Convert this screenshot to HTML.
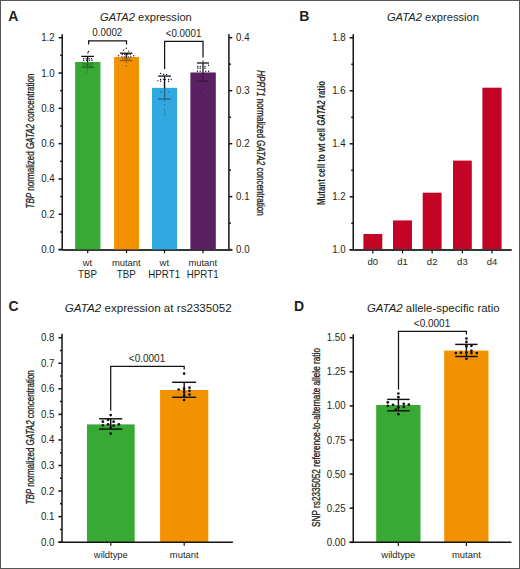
<!DOCTYPE html>
<html><head><meta charset="utf-8"><style>
html,body{margin:0;padding:0;background:#fff;}
body{width:520px;height:569px;overflow:hidden;}
.wrap{position:relative;width:520px;height:569px;box-sizing:border-box;border:1px solid #565656;background:#fff;}
svg{position:absolute;left:-1px;top:-1px;}
text{font-family:"Liberation Sans",sans-serif;}
</style></head><body><div class="wrap">
<svg width="520" height="569" viewBox="0 0 520 569" shape-rendering="geometricPrecision">
<text transform="translate(8.3,20.6) scale(1,1)" font-size="14" text-anchor="start" fill="#231f20" font-weight="bold">A</text>
<text x="100.0" y="20.8" font-size="11.2" fill="#231f20" stroke="#231f20" stroke-width="0" textLength="91.8" lengthAdjust="spacingAndGlyphs"><tspan font-style="italic">GATA2</tspan> expression</text>
<line x1="62.2" y1="34.2" x2="62.2" y2="250.1" stroke="#141414" stroke-width="1.5"/>
<line x1="58.6" y1="249.6" x2="62.2" y2="249.6" stroke="#141414" stroke-width="1.5"/>
<text transform="translate(54.6,253.1) scale(1,1.04)" font-size="9.7" text-anchor="end" fill="#231f20" >0.0</text>
<line x1="58.6" y1="214.28333333333333" x2="62.2" y2="214.28333333333333" stroke="#141414" stroke-width="1.5"/>
<text transform="translate(54.6,217.78333333333333) scale(1,1.04)" font-size="9.7" text-anchor="end" fill="#231f20" >0.2</text>
<line x1="58.6" y1="178.96666666666667" x2="62.2" y2="178.96666666666667" stroke="#141414" stroke-width="1.5"/>
<text transform="translate(54.6,182.46666666666667) scale(1,1.04)" font-size="9.7" text-anchor="end" fill="#231f20" >0.4</text>
<line x1="58.6" y1="143.65" x2="62.2" y2="143.65" stroke="#141414" stroke-width="1.5"/>
<text transform="translate(54.6,147.15) scale(1,1.04)" font-size="9.7" text-anchor="end" fill="#231f20" >0.6</text>
<line x1="58.6" y1="108.33333333333334" x2="62.2" y2="108.33333333333334" stroke="#141414" stroke-width="1.5"/>
<text transform="translate(54.6,111.83333333333334) scale(1,1.04)" font-size="9.7" text-anchor="end" fill="#231f20" >0.8</text>
<line x1="58.6" y1="73.01666666666668" x2="62.2" y2="73.01666666666668" stroke="#141414" stroke-width="1.5"/>
<text transform="translate(54.6,76.51666666666668) scale(1,1.04)" font-size="9.7" text-anchor="end" fill="#231f20" >1.0</text>
<line x1="58.6" y1="37.70000000000002" x2="62.2" y2="37.70000000000002" stroke="#141414" stroke-width="1.5"/>
<text transform="translate(54.6,41.20000000000002) scale(1,1.04)" font-size="9.7" text-anchor="end" fill="#231f20" >1.2</text>
<line x1="60.2" y1="231.94166666666666" x2="62.2" y2="231.94166666666666" stroke="#141414" stroke-width="1.5"/>
<line x1="60.2" y1="196.625" x2="62.2" y2="196.625" stroke="#141414" stroke-width="1.5"/>
<line x1="60.2" y1="161.30833333333334" x2="62.2" y2="161.30833333333334" stroke="#141414" stroke-width="1.5"/>
<line x1="60.2" y1="125.99166666666669" x2="62.2" y2="125.99166666666669" stroke="#141414" stroke-width="1.5"/>
<line x1="60.2" y1="90.67500000000001" x2="62.2" y2="90.67500000000001" stroke="#141414" stroke-width="1.5"/>
<line x1="60.2" y1="55.35833333333332" x2="62.2" y2="55.35833333333332" stroke="#141414" stroke-width="1.5"/>
<line x1="228.9" y1="34.2" x2="228.9" y2="250.1" stroke="#141414" stroke-width="1.5"/>
<line x1="228.9" y1="249.6" x2="232.3" y2="249.6" stroke="#141414" stroke-width="1.5"/>
<text transform="translate(236.1,253.1) scale(1,1.04)" font-size="9.7" text-anchor="start" fill="#231f20" >0.0</text>
<line x1="228.9" y1="196.625" x2="232.3" y2="196.625" stroke="#141414" stroke-width="1.5"/>
<text transform="translate(236.1,200.125) scale(1,1.04)" font-size="9.7" text-anchor="start" fill="#231f20" >0.1</text>
<line x1="228.9" y1="143.65" x2="232.3" y2="143.65" stroke="#141414" stroke-width="1.5"/>
<text transform="translate(236.1,147.15) scale(1,1.04)" font-size="9.7" text-anchor="start" fill="#231f20" >0.2</text>
<line x1="228.9" y1="90.67500000000004" x2="232.3" y2="90.67500000000004" stroke="#141414" stroke-width="1.5"/>
<text transform="translate(236.1,94.17500000000004) scale(1,1.04)" font-size="9.7" text-anchor="start" fill="#231f20" >0.3</text>
<line x1="228.9" y1="37.70000000000002" x2="232.3" y2="37.70000000000002" stroke="#141414" stroke-width="1.5"/>
<text transform="translate(236.1,41.20000000000002) scale(1,1.04)" font-size="9.7" text-anchor="start" fill="#231f20" >0.4</text>
<line x1="228.9" y1="223.1125" x2="230.9" y2="223.1125" stroke="#141414" stroke-width="1.5"/>
<line x1="228.9" y1="170.1375" x2="230.9" y2="170.1375" stroke="#141414" stroke-width="1.5"/>
<line x1="228.9" y1="117.16250000000002" x2="230.9" y2="117.16250000000002" stroke="#141414" stroke-width="1.5"/>
<line x1="228.9" y1="64.18750000000006" x2="230.9" y2="64.18750000000006" stroke="#141414" stroke-width="1.5"/>
<rect x="75.2" y="62.0" width="25.099999999999994" height="187.6" fill="#38a935"/>
<rect x="114.2" y="57.0" width="24.799999999999997" height="192.6" fill="#f39200"/>
<rect x="152.0" y="87.9" width="25.0" height="161.7" fill="#31a9e0"/>
<rect x="190.5" y="72.6" width="25.19999999999999" height="177.0" fill="#5b2162"/>
<line x1="62.2" y1="250.0" x2="232.3" y2="250.0" stroke="#363636" stroke-width="1.8"/>
<line x1="58.6" y1="249.6" x2="62.2" y2="249.6" stroke="#141414" stroke-width="1.5"/>
<line x1="87.7" y1="249.6" x2="87.7" y2="253.2" stroke="#141414" stroke-width="1.2"/>
<line x1="126.5" y1="249.6" x2="126.5" y2="253.2" stroke="#141414" stroke-width="1.2"/>
<line x1="164.5" y1="249.6" x2="164.5" y2="253.2" stroke="#141414" stroke-width="1.2"/>
<line x1="203.0" y1="249.6" x2="203.0" y2="253.2" stroke="#141414" stroke-width="1.2"/>
<text transform="translate(87.5,265.8) scale(1,1.04)" font-size="9.4" text-anchor="middle" fill="#231f20" >wt</text>
<text transform="translate(87.4,277.7) scale(1,1.07)" font-size="9.75" text-anchor="middle" fill="#231f20" >TBP</text>
<text transform="translate(126.3,265.8) scale(1,1.04)" font-size="9.4" text-anchor="middle" fill="#231f20" >mutant</text>
<text transform="translate(126.2,277.7) scale(1,1.07)" font-size="9.75" text-anchor="middle" fill="#231f20" >TBP</text>
<text transform="translate(164.3,265.8) scale(1,1.04)" font-size="9.4" text-anchor="middle" fill="#231f20" >wt</text>
<text transform="translate(164.2,277.7) scale(1,1.07)" font-size="9.75" text-anchor="middle" fill="#231f20" >HPRT1</text>
<text transform="translate(202.8,265.8) scale(1,1.04)" font-size="9.4" text-anchor="middle" fill="#231f20" >mutant</text>
<text transform="translate(202.7,277.7) scale(1,1.07)" font-size="9.75" text-anchor="middle" fill="#231f20" >HPRT1</text>
<line x1="87.6" y1="56.4" x2="87.6" y2="67.2" stroke="#111" stroke-width="1.3"/>
<line x1="81.3" y1="56.4" x2="93.89999999999999" y2="56.4" stroke="#111" stroke-width="1.3"/>
<line x1="81.3" y1="67.2" x2="93.89999999999999" y2="67.2" stroke="#111" stroke-width="1.3"/>
<line x1="126.3" y1="53.2" x2="126.3" y2="60.6" stroke="#111" stroke-width="1.3"/>
<line x1="120.1" y1="53.2" x2="132.5" y2="53.2" stroke="#111" stroke-width="1.3"/>
<line x1="120.1" y1="60.6" x2="132.5" y2="60.6" stroke="#111" stroke-width="1.3"/>
<line x1="164.6" y1="76.1" x2="164.6" y2="99.0" stroke="#111" stroke-width="1.3"/>
<line x1="158.2" y1="76.1" x2="171.0" y2="76.1" stroke="#111" stroke-width="1.3"/>
<line x1="158.2" y1="99.0" x2="171.0" y2="99.0" stroke="#111" stroke-width="1.3"/>
<line x1="203.0" y1="63.0" x2="203.0" y2="81.1" stroke="#111" stroke-width="1.3"/>
<line x1="197.0" y1="63.0" x2="209.0" y2="63.0" stroke="#111" stroke-width="1.3"/>
<line x1="197.0" y1="81.1" x2="209.0" y2="81.1" stroke="#111" stroke-width="1.3"/>
<circle cx="88.4" cy="51.5" r="0.7" fill="#14102a"/>
<circle cx="87.9" cy="53" r="0.7" fill="#14102a"/>
<circle cx="83.6" cy="58.6" r="0.7" fill="#14102a"/>
<circle cx="86.1" cy="58.6" r="0.7" fill="#14102a"/>
<circle cx="89.1" cy="58.6" r="0.7" fill="#14102a"/>
<circle cx="91.6" cy="58.6" r="0.7" fill="#14102a"/>
<circle cx="83.6" cy="60.3" r="0.7" fill="#14102a"/>
<circle cx="86.6" cy="60.3" r="0.7" fill="#14102a"/>
<circle cx="89.6" cy="60.3" r="0.7" fill="#14102a"/>
<circle cx="92.1" cy="60.3" r="0.7" fill="#14102a"/>
<circle cx="82.6" cy="63.3" r="0.7" fill="#14102a"/>
<circle cx="85.1" cy="63.3" r="0.7" fill="#14102a"/>
<circle cx="87.6" cy="63.3" r="0.7" fill="#14102a"/>
<circle cx="90.1" cy="63.3" r="0.7" fill="#14102a"/>
<circle cx="92.6" cy="63.3" r="0.7" fill="#14102a"/>
<circle cx="83.6" cy="65" r="0.7" fill="#14102a"/>
<circle cx="86.1" cy="65" r="0.7" fill="#14102a"/>
<circle cx="89.1" cy="65" r="0.7" fill="#14102a"/>
<circle cx="91.6" cy="65" r="0.7" fill="#14102a"/>
<circle cx="84.6" cy="66.6" r="0.7" fill="#14102a"/>
<circle cx="87.6" cy="66.6" r="0.7" fill="#14102a"/>
<circle cx="90.6" cy="66.6" r="0.7" fill="#14102a"/>
<circle cx="87.6" cy="69" r="0.7" fill="#14102a"/>
<circle cx="87.1" cy="72" r="0.7" fill="#14102a"/>
<circle cx="126.3" cy="48.3" r="0.7" fill="#14102a"/>
<circle cx="123.5" cy="50.2" r="0.7" fill="#14102a"/>
<circle cx="128.6" cy="51.1" r="0.7" fill="#14102a"/>
<circle cx="122.3" cy="54.5" r="0.7" fill="#14102a"/>
<circle cx="124.8" cy="54.5" r="0.7" fill="#14102a"/>
<circle cx="127.8" cy="54.5" r="0.7" fill="#14102a"/>
<circle cx="130.3" cy="54.5" r="0.7" fill="#14102a"/>
<circle cx="118.6" cy="55.8" r="0.7" fill="#14102a"/>
<circle cx="133.8" cy="55.8" r="0.7" fill="#14102a"/>
<circle cx="121.8" cy="57" r="0.7" fill="#14102a"/>
<circle cx="124.3" cy="57" r="0.7" fill="#14102a"/>
<circle cx="126.3" cy="57" r="0.7" fill="#14102a"/>
<circle cx="128.3" cy="57" r="0.7" fill="#14102a"/>
<circle cx="130.8" cy="57" r="0.7" fill="#14102a"/>
<circle cx="122.8" cy="58.5" r="0.7" fill="#14102a"/>
<circle cx="125.3" cy="58.5" r="0.7" fill="#14102a"/>
<circle cx="127.3" cy="58.5" r="0.7" fill="#14102a"/>
<circle cx="129.8" cy="58.5" r="0.7" fill="#14102a"/>
<circle cx="124.3" cy="60" r="0.7" fill="#14102a"/>
<circle cx="128.3" cy="60" r="0.7" fill="#14102a"/>
<circle cx="126.3" cy="62.5" r="0.7" fill="#14102a"/>
<circle cx="126.3" cy="65.8" r="0.7" fill="#14102a"/>
<circle cx="160.6" cy="73.4" r="0.7" fill="#14102a"/>
<circle cx="163.6" cy="74.5" r="0.7" fill="#14102a"/>
<circle cx="166.6" cy="74.5" r="0.7" fill="#14102a"/>
<circle cx="160.6" cy="79.5" r="0.7" fill="#14102a"/>
<circle cx="163.8" cy="79.5" r="0.7" fill="#14102a"/>
<circle cx="165.1" cy="79.5" r="0.7" fill="#14102a"/>
<circle cx="168.6" cy="79.5" r="0.7" fill="#14102a"/>
<circle cx="171.2" cy="79.5" r="0.7" fill="#14102a"/>
<circle cx="158.0" cy="80.6" r="0.7" fill="#14102a"/>
<circle cx="160.6" cy="81.3" r="0.7" fill="#14102a"/>
<circle cx="168.6" cy="81.3" r="0.7" fill="#14102a"/>
<circle cx="164.3" cy="82.7" r="0.7" fill="#14102a"/>
<circle cx="164.3" cy="85.3" r="0.7" fill="#14102a"/>
<circle cx="164.6" cy="88" r="0.7" fill="#14102a"/>
<circle cx="160.8" cy="91.8" r="0.7" fill="#14102a"/>
<circle cx="168.8" cy="91.8" r="0.7" fill="#14102a"/>
<circle cx="164.6" cy="93" r="0.7" fill="#14102a"/>
<circle cx="164.6" cy="94.8" r="0.7" fill="#14102a"/>
<circle cx="164.6" cy="101" r="0.7" fill="#14102a"/>
<circle cx="164.6" cy="104.7" r="0.7" fill="#14102a"/>
<circle cx="164.6" cy="109.6" r="0.7" fill="#14102a"/>
<circle cx="164.6" cy="112" r="0.7" fill="#14102a"/>
<circle cx="164.6" cy="114.5" r="0.7" fill="#14102a"/>
<circle cx="203.0" cy="61.3" r="0.7" fill="#14102a"/>
<circle cx="208.5" cy="65.3" r="0.7" fill="#14102a"/>
<circle cx="197.8" cy="66.5" r="0.7" fill="#14102a"/>
<circle cx="200.2" cy="66.5" r="0.7" fill="#14102a"/>
<circle cx="205.0" cy="66.5" r="0.7" fill="#14102a"/>
<circle cx="197.8" cy="68.2" r="0.7" fill="#14102a"/>
<circle cx="200.2" cy="68.2" r="0.7" fill="#14102a"/>
<circle cx="205.0" cy="68.2" r="0.7" fill="#14102a"/>
<circle cx="197.4" cy="71.2" r="0.7" fill="#14102a"/>
<circle cx="200.2" cy="71.2" r="0.7" fill="#14102a"/>
<circle cx="205.8" cy="71.2" r="0.7" fill="#14102a"/>
<circle cx="208.6" cy="71.2" r="0.7" fill="#14102a"/>
<circle cx="201.5" cy="75.6" r="0.7" fill="#14102a"/>
<circle cx="203.0" cy="77.2" r="0.7" fill="#14102a"/>
<circle cx="201.5" cy="85" r="0.7" fill="#14102a"/>
<circle cx="203.0" cy="88.2" r="0.7" fill="#14102a"/>
<circle cx="201.5" cy="92.2" r="0.7" fill="#14102a"/>
<circle cx="203.0" cy="95.3" r="0.7" fill="#14102a"/>
<rect x="75.2" y="62.0" width="25.099999999999994" height="187.6" fill="#38a935" fill-opacity="0.55"/>
<rect x="114.2" y="57.0" width="24.799999999999997" height="192.6" fill="#f39200" fill-opacity="0.55"/>
<rect x="152.0" y="87.9" width="25.0" height="161.7" fill="#31a9e0" fill-opacity="0.55"/>
<rect x="190.5" y="72.6" width="25.19999999999999" height="177.0" fill="#5b2162" fill-opacity="0.55"/>
<path d="M88.6 44.5 V40.8 H126.5 V44.5" fill="none" stroke="#141414" stroke-width="1.25"/>
<text transform="translate(107.3,36.3) scale(1,1.04)" font-size="9.8" text-anchor="middle" fill="#231f20" >0.0002</text>
<path d="M164.6 69 V41.4 H203.0 V57.4" fill="none" stroke="#141414" stroke-width="1.25"/>
<text transform="translate(183.5,36.9) scale(1,1.04)" font-size="9.8" text-anchor="middle" fill="#231f20" >&lt;0.0001</text>
<text transform="translate(34.2,208.5) rotate(-90)" font-size="10" fill="#231f20" textLength="135" lengthAdjust="spacingAndGlyphs" stroke="#231f20" stroke-width="0.3"><tspan font-style="italic">TBP</tspan><tspan> normalized </tspan><tspan font-style="italic">GATA2</tspan><tspan> concentration</tspan></text>
<text transform="translate(256.6,70.3) rotate(90)" font-size="10" fill="#231f20" textLength="145.3" lengthAdjust="spacingAndGlyphs" stroke="#231f20" stroke-width="0.3"><tspan font-style="italic">HPRT1</tspan><tspan> normalized </tspan><tspan font-style="italic">GATA2</tspan><tspan> concentration</tspan></text>
<text transform="translate(299.3,20.5) scale(1,1)" font-size="14" text-anchor="start" fill="#231f20" font-weight="bold">B</text>
<text x="386.9" y="20.8" font-size="11.2" fill="#231f20" stroke="#231f20" stroke-width="0" textLength="92.1" lengthAdjust="spacingAndGlyphs"><tspan font-style="italic">GATA2</tspan> expression</text>
<line x1="353.25" y1="34.2" x2="353.25" y2="250.3" stroke="#141414" stroke-width="1.5"/>
<line x1="349.65" y1="249.8" x2="353.25" y2="249.8" stroke="#141414" stroke-width="1.5"/>
<text transform="translate(345.65,253.3) scale(1,1.04)" font-size="9.7" text-anchor="end" fill="#231f20" >1.0</text>
<line x1="349.65" y1="196.8" x2="353.25" y2="196.8" stroke="#141414" stroke-width="1.5"/>
<text transform="translate(345.65,200.3) scale(1,1.04)" font-size="9.7" text-anchor="end" fill="#231f20" >1.2</text>
<line x1="349.65" y1="143.80000000000004" x2="353.25" y2="143.80000000000004" stroke="#141414" stroke-width="1.5"/>
<text transform="translate(345.65,147.30000000000004) scale(1,1.04)" font-size="9.7" text-anchor="end" fill="#231f20" >1.4</text>
<line x1="349.65" y1="90.79999999999998" x2="353.25" y2="90.79999999999998" stroke="#141414" stroke-width="1.5"/>
<text transform="translate(345.65,94.29999999999998) scale(1,1.04)" font-size="9.7" text-anchor="end" fill="#231f20" >1.6</text>
<line x1="349.65" y1="37.80000000000001" x2="353.25" y2="37.80000000000001" stroke="#141414" stroke-width="1.5"/>
<text transform="translate(345.65,41.30000000000001) scale(1,1.04)" font-size="9.7" text-anchor="end" fill="#231f20" >1.8</text>
<line x1="351.25" y1="223.3" x2="353.25" y2="223.3" stroke="#141414" stroke-width="1.5"/>
<line x1="351.25" y1="170.3" x2="353.25" y2="170.3" stroke="#141414" stroke-width="1.5"/>
<line x1="351.25" y1="117.30000000000004" x2="353.25" y2="117.30000000000004" stroke="#141414" stroke-width="1.5"/>
<line x1="351.25" y1="64.29999999999998" x2="353.25" y2="64.29999999999998" stroke="#141414" stroke-width="1.5"/>
<rect x="363.4" y="234.0" width="18.900000000000034" height="15.800000000000011" fill="#c40424"/>
<rect x="393.0" y="220.4" width="19.0" height="29.400000000000006" fill="#c40424"/>
<rect x="422.7" y="192.7" width="18.900000000000034" height="57.10000000000002" fill="#c40424"/>
<rect x="453.0" y="160.6" width="18.80000000000001" height="89.20000000000002" fill="#c40424"/>
<rect x="482.4" y="87.7" width="19.200000000000045" height="162.10000000000002" fill="#c40424"/>
<line x1="353.25" y1="250.0" x2="511.7" y2="250.0" stroke="#363636" stroke-width="1.8"/>
<line x1="349.65" y1="249.8" x2="353.25" y2="249.8" stroke="#141414" stroke-width="1.5"/>
<line x1="372.85" y1="249.8" x2="372.85" y2="253.4" stroke="#141414" stroke-width="1.2"/>
<text transform="translate(372.85,265.4) scale(1,1.04)" font-size="9.5" text-anchor="middle" fill="#231f20" >d0</text>
<line x1="402.5" y1="249.8" x2="402.5" y2="253.4" stroke="#141414" stroke-width="1.2"/>
<text transform="translate(402.5,265.4) scale(1,1.04)" font-size="9.5" text-anchor="middle" fill="#231f20" >d1</text>
<line x1="432.15" y1="249.8" x2="432.15" y2="253.4" stroke="#141414" stroke-width="1.2"/>
<text transform="translate(432.15,265.4) scale(1,1.04)" font-size="9.5" text-anchor="middle" fill="#231f20" >d2</text>
<line x1="462.4" y1="249.8" x2="462.4" y2="253.4" stroke="#141414" stroke-width="1.2"/>
<text transform="translate(462.4,265.4) scale(1,1.04)" font-size="9.5" text-anchor="middle" fill="#231f20" >d3</text>
<line x1="492.0" y1="249.8" x2="492.0" y2="253.4" stroke="#141414" stroke-width="1.2"/>
<text transform="translate(492.0,265.4) scale(1,1.04)" font-size="9.5" text-anchor="middle" fill="#231f20" >d4</text>
<text transform="translate(325,205) rotate(-90)" font-size="10" fill="#231f20" textLength="124" lengthAdjust="spacingAndGlyphs" font-weight="bold"><tspan>Mutant cell to wt cell </tspan><tspan font-style="italic">GATA2</tspan><tspan> ratio</tspan></text>
<text transform="translate(8.5,311.1) scale(1,1)" font-size="14" text-anchor="start" fill="#231f20" font-weight="bold">C</text>
<text x="64.8" y="311.9" font-size="11.2" fill="#231f20" stroke="#231f20" stroke-width="0" textLength="166.9" lengthAdjust="spacingAndGlyphs"><tspan font-style="italic">GATA2</tspan> expression at rs2335052</text>
<line x1="62" y1="333.8" x2="62" y2="542.7" stroke="#141414" stroke-width="1.5"/>
<line x1="58.4" y1="542.2" x2="62" y2="542.2" stroke="#141414" stroke-width="1.5"/>
<text transform="translate(54.4,545.7) scale(1,1.04)" font-size="9.7" text-anchor="end" fill="#231f20" >0.0</text>
<line x1="58.4" y1="516.6375" x2="62" y2="516.6375" stroke="#141414" stroke-width="1.5"/>
<text transform="translate(54.4,520.1375) scale(1,1.04)" font-size="9.7" text-anchor="end" fill="#231f20" >0.1</text>
<line x1="58.4" y1="491.07500000000005" x2="62" y2="491.07500000000005" stroke="#141414" stroke-width="1.5"/>
<text transform="translate(54.4,494.57500000000005) scale(1,1.04)" font-size="9.7" text-anchor="end" fill="#231f20" >0.2</text>
<line x1="58.4" y1="465.51250000000005" x2="62" y2="465.51250000000005" stroke="#141414" stroke-width="1.5"/>
<text transform="translate(54.4,469.01250000000005) scale(1,1.04)" font-size="9.7" text-anchor="end" fill="#231f20" >0.3</text>
<line x1="58.4" y1="439.95000000000005" x2="62" y2="439.95000000000005" stroke="#141414" stroke-width="1.5"/>
<text transform="translate(54.4,443.45000000000005) scale(1,1.04)" font-size="9.7" text-anchor="end" fill="#231f20" >0.4</text>
<line x1="58.4" y1="414.38750000000005" x2="62" y2="414.38750000000005" stroke="#141414" stroke-width="1.5"/>
<text transform="translate(54.4,417.88750000000005) scale(1,1.04)" font-size="9.7" text-anchor="end" fill="#231f20" >0.5</text>
<line x1="58.4" y1="388.82500000000005" x2="62" y2="388.82500000000005" stroke="#141414" stroke-width="1.5"/>
<text transform="translate(54.4,392.32500000000005) scale(1,1.04)" font-size="9.7" text-anchor="end" fill="#231f20" >0.6</text>
<line x1="58.4" y1="363.26250000000005" x2="62" y2="363.26250000000005" stroke="#141414" stroke-width="1.5"/>
<text transform="translate(54.4,366.76250000000005) scale(1,1.04)" font-size="9.7" text-anchor="end" fill="#231f20" >0.7</text>
<line x1="58.4" y1="337.7" x2="62" y2="337.7" stroke="#141414" stroke-width="1.5"/>
<text transform="translate(54.4,341.2) scale(1,1.04)" font-size="9.7" text-anchor="end" fill="#231f20" >0.8</text>
<line x1="60" y1="529.41875" x2="62" y2="529.41875" stroke="#141414" stroke-width="1.5"/>
<line x1="60" y1="503.85625000000005" x2="62" y2="503.85625000000005" stroke="#141414" stroke-width="1.5"/>
<line x1="60" y1="478.29375000000005" x2="62" y2="478.29375000000005" stroke="#141414" stroke-width="1.5"/>
<line x1="60" y1="452.73125000000005" x2="62" y2="452.73125000000005" stroke="#141414" stroke-width="1.5"/>
<line x1="60" y1="427.16875000000005" x2="62" y2="427.16875000000005" stroke="#141414" stroke-width="1.5"/>
<line x1="60" y1="401.60625000000005" x2="62" y2="401.60625000000005" stroke="#141414" stroke-width="1.5"/>
<line x1="60" y1="376.04375000000005" x2="62" y2="376.04375000000005" stroke="#141414" stroke-width="1.5"/>
<line x1="60" y1="350.48125" x2="62" y2="350.48125" stroke="#141414" stroke-width="1.5"/>
<rect x="87.0" y="424.4" width="47.7" height="117.80000000000007" fill="#38a935"/>
<rect x="160.1" y="390.0" width="48.2" height="152.20000000000005" fill="#f39200"/>
<line x1="62" y1="542.2" x2="232.9" y2="542.2" stroke="#141414" stroke-width="1.5"/>
<line x1="58.4" y1="542.2" x2="62" y2="542.2" stroke="#141414" stroke-width="1.5"/>
<line x1="110.8" y1="542.2" x2="110.8" y2="545.8000000000001" stroke="#141414" stroke-width="1.2"/>
<text transform="translate(110.8,558.1) scale(1,1.04)" font-size="9.4" text-anchor="middle" fill="#231f20" >wildtype</text>
<line x1="184.2" y1="542.2" x2="184.2" y2="545.8000000000001" stroke="#141414" stroke-width="1.2"/>
<text transform="translate(184.2,558.1) scale(1,1.04)" font-size="9.4" text-anchor="middle" fill="#231f20" >mutant</text>
<line x1="110.7" y1="418.8" x2="110.7" y2="429.1" stroke="#111" stroke-width="1.45"/>
<line x1="99.10000000000001" y1="418.8" x2="122.3" y2="418.8" stroke="#111" stroke-width="1.45"/>
<line x1="99.10000000000001" y1="429.1" x2="122.3" y2="429.1" stroke="#111" stroke-width="1.45"/>
<line x1="184.2" y1="382.3" x2="184.2" y2="397.3" stroke="#111" stroke-width="1.45"/>
<line x1="172.2" y1="382.3" x2="196.2" y2="382.3" stroke="#111" stroke-width="1.45"/>
<line x1="172.2" y1="397.3" x2="196.2" y2="397.3" stroke="#111" stroke-width="1.45"/>
<circle cx="110.7" cy="415.1" r="1.35" fill="#111"/>
<circle cx="108.1" cy="419.8" r="1.35" fill="#111"/>
<circle cx="102.8" cy="421.7" r="1.35" fill="#111"/>
<circle cx="113.6" cy="421.7" r="1.35" fill="#111"/>
<circle cx="102.8" cy="425.3" r="1.35" fill="#111"/>
<circle cx="108.1" cy="424.3" r="1.35" fill="#111"/>
<circle cx="113.6" cy="425.6" r="1.35" fill="#111"/>
<circle cx="118.9" cy="424.3" r="1.35" fill="#111"/>
<circle cx="110.7" cy="433.6" r="1.35" fill="#111"/>
<circle cx="110.7" cy="427.5" r="1.35" fill="#111"/>
<circle cx="184.1" cy="373.6" r="1.35" fill="#111"/>
<circle cx="178.7" cy="389.5" r="1.35" fill="#111"/>
<circle cx="184.1" cy="388.7" r="1.35" fill="#111"/>
<circle cx="189.5" cy="387.7" r="1.35" fill="#111"/>
<circle cx="189.5" cy="390.8" r="1.35" fill="#111"/>
<circle cx="184.1" cy="391.9" r="1.35" fill="#111"/>
<circle cx="189.5" cy="394.6" r="1.35" fill="#111"/>
<circle cx="184.1" cy="400" r="1.35" fill="#111"/>
<circle cx="184.1" cy="395.5" r="1.35" fill="#111"/>
<path d="M110.7 410.8 V366.3 H184.2 V369.6" fill="none" stroke="#141414" stroke-width="1.25"/>
<text transform="translate(147.0,362.0) scale(1,1.04)" font-size="10" text-anchor="middle" fill="#231f20" >&lt;0.0001</text>
<text transform="translate(33.7,504.4) rotate(-90)" font-size="10" fill="#231f20" textLength="134.2" lengthAdjust="spacingAndGlyphs" stroke="#231f20" stroke-width="0.3"><tspan font-style="italic">TBP</tspan><tspan> normalized </tspan><tspan font-style="italic">GATA2</tspan><tspan> concentration</tspan></text>
<text transform="translate(293.9,310.8) scale(1,1)" font-size="14" text-anchor="start" fill="#231f20" font-weight="bold">D</text>
<text x="366.9" y="311.9" font-size="11.2" fill="#231f20" stroke="#231f20" stroke-width="0" textLength="132.8" lengthAdjust="spacingAndGlyphs"><tspan font-style="italic">GATA2</tspan> allele-specific ratio</text>
<line x1="353.25" y1="334.2" x2="353.25" y2="542.8" stroke="#141414" stroke-width="1.5"/>
<line x1="349.65" y1="542.3" x2="353.25" y2="542.3" stroke="#141414" stroke-width="1.5"/>
<text transform="translate(345.65,545.8) scale(1,1.04)" font-size="9.7" text-anchor="end" fill="#231f20" >0.00</text>
<line x1="349.65" y1="508.19999999999993" x2="353.25" y2="508.19999999999993" stroke="#141414" stroke-width="1.5"/>
<text transform="translate(345.65,511.69999999999993) scale(1,1.04)" font-size="9.7" text-anchor="end" fill="#231f20" >0.25</text>
<line x1="349.65" y1="474.09999999999997" x2="353.25" y2="474.09999999999997" stroke="#141414" stroke-width="1.5"/>
<text transform="translate(345.65,477.59999999999997) scale(1,1.04)" font-size="9.7" text-anchor="end" fill="#231f20" >0.50</text>
<line x1="349.65" y1="440.0" x2="353.25" y2="440.0" stroke="#141414" stroke-width="1.5"/>
<text transform="translate(345.65,443.5) scale(1,1.04)" font-size="9.7" text-anchor="end" fill="#231f20" >0.75</text>
<line x1="349.65" y1="405.9" x2="353.25" y2="405.9" stroke="#141414" stroke-width="1.5"/>
<text transform="translate(345.65,409.4) scale(1,1.04)" font-size="9.7" text-anchor="end" fill="#231f20" >1.00</text>
<line x1="349.65" y1="371.79999999999995" x2="353.25" y2="371.79999999999995" stroke="#141414" stroke-width="1.5"/>
<text transform="translate(345.65,375.29999999999995) scale(1,1.04)" font-size="9.7" text-anchor="end" fill="#231f20" >1.25</text>
<line x1="349.65" y1="337.7" x2="353.25" y2="337.7" stroke="#141414" stroke-width="1.5"/>
<text transform="translate(345.65,341.2) scale(1,1.04)" font-size="9.7" text-anchor="end" fill="#231f20" >1.50</text>
<rect x="376.2" y="405.0" width="44.3" height="137.29999999999995" fill="#38a935"/>
<rect x="444.2" y="350.6" width="44.3" height="191.69999999999993" fill="#f39200"/>
<line x1="353.25" y1="542.3" x2="511.5" y2="542.3" stroke="#141414" stroke-width="1.5"/>
<line x1="349.65" y1="542.3" x2="353.25" y2="542.3" stroke="#141414" stroke-width="1.5"/>
<line x1="398.3" y1="542.3" x2="398.3" y2="545.9" stroke="#141414" stroke-width="1.2"/>
<text transform="translate(398.3,558.1) scale(1,1.04)" font-size="9.4" text-anchor="middle" fill="#231f20" >wildtype</text>
<line x1="466.4" y1="542.3" x2="466.4" y2="545.9" stroke="#141414" stroke-width="1.2"/>
<text transform="translate(466.4,558.1) scale(1,1.04)" font-size="9.4" text-anchor="middle" fill="#231f20" >mutant</text>
<line x1="398.4" y1="399.4" x2="398.4" y2="410.8" stroke="#111" stroke-width="1.45"/>
<line x1="387.2" y1="399.4" x2="409.59999999999997" y2="399.4" stroke="#111" stroke-width="1.45"/>
<line x1="387.2" y1="410.8" x2="409.59999999999997" y2="410.8" stroke="#111" stroke-width="1.45"/>
<line x1="466.4" y1="344.4" x2="466.4" y2="356.5" stroke="#111" stroke-width="1.45"/>
<line x1="455.2" y1="344.4" x2="477.59999999999997" y2="344.4" stroke="#111" stroke-width="1.45"/>
<line x1="455.2" y1="356.5" x2="477.59999999999997" y2="356.5" stroke="#111" stroke-width="1.45"/>
<circle cx="398.4" cy="393.5" r="1.35" fill="#111"/>
<circle cx="398.4" cy="397.2" r="1.35" fill="#111"/>
<circle cx="387.8" cy="402.3" r="1.35" fill="#111"/>
<circle cx="393" cy="404.8" r="1.35" fill="#111"/>
<circle cx="403.8" cy="403.8" r="1.35" fill="#111"/>
<circle cx="408.8" cy="404.6" r="1.35" fill="#111"/>
<circle cx="387.8" cy="405.8" r="1.35" fill="#111"/>
<circle cx="398.4" cy="407.3" r="1.35" fill="#111"/>
<circle cx="403.8" cy="406.9" r="1.35" fill="#111"/>
<circle cx="395.7" cy="409.5" r="1.35" fill="#111"/>
<circle cx="398.4" cy="414.2" r="1.35" fill="#111"/>
<circle cx="466.4" cy="338.5" r="1.35" fill="#111"/>
<circle cx="466.4" cy="341.9" r="1.35" fill="#111"/>
<circle cx="466.4" cy="346.2" r="1.35" fill="#111"/>
<circle cx="471.4" cy="345.8" r="1.35" fill="#111"/>
<circle cx="471.4" cy="350.8" r="1.35" fill="#111"/>
<circle cx="455.8" cy="353.1" r="1.35" fill="#111"/>
<circle cx="461" cy="352.7" r="1.35" fill="#111"/>
<circle cx="466.4" cy="352.7" r="1.35" fill="#111"/>
<circle cx="471.4" cy="353.1" r="1.35" fill="#111"/>
<circle cx="476.8" cy="353.1" r="1.35" fill="#111"/>
<circle cx="466.4" cy="358.8" r="1.35" fill="#111"/>
<path d="M398.5 389.6 V331.3 H466.4 V334.5" fill="none" stroke="#141414" stroke-width="1.25"/>
<text transform="translate(432.0,326.8) scale(1,1.04)" font-size="10" text-anchor="middle" fill="#231f20" >&lt;0.0001</text>
<text transform="translate(319.7,527) rotate(-90)" font-size="10" fill="#231f20" textLength="179" lengthAdjust="spacingAndGlyphs" stroke="#231f20" stroke-width="0.3"><tspan>SNP rs2335052 reference-to-alternate allele ratio</tspan></text>
</svg></div></body></html>
